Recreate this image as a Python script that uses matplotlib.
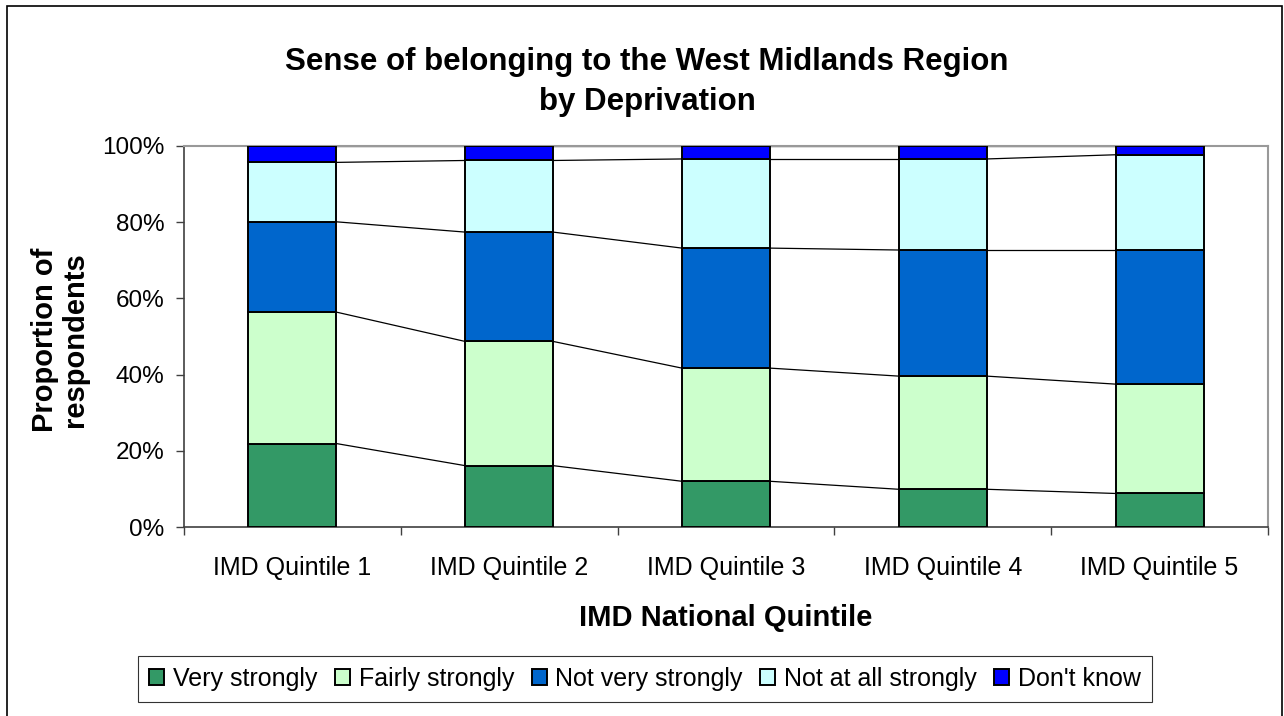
import matplotlib
matplotlib.use("Agg")
import matplotlib.pyplot as plt
import numpy as np
from matplotlib.patches import Rectangle

plt.rcParams['font.family'] = ['Liberation Sans', 'DejaVu Sans']

categories = ["IMD Quintile 1", "IMD Quintile 2", "IMD Quintile 3", "IMD Quintile 4", "IMD Quintile 5"]
series_names = ["Very strongly", "Fairly strongly", "Not very strongly", "Not at all strongly", "Don't know"]
very_strongly = [21.9, 16.1, 12.0, 9.9, 8.8]
fairly_strongly = [34.5, 32.6, 29.7, 29.7, 28.7]
not_very_strongly = [23.7, 28.7, 31.5, 33.1, 35.2]
not_at_all_strongly = [15.6, 18.8, 23.4, 23.9, 25.0]
dont_know = [4.3, 3.8, 3.4, 3.4, 2.3]
colors = ["#339966", "#CCFFCC", "#0066CC", "#CCFFFF", "#0000FF"]

series = [very_strongly, fairly_strongly, not_very_strongly, not_at_all_strongly, dont_know]

fig = plt.figure(figsize=(12.84, 7.16), dpi=100)
ax = fig.add_axes([184/1284, 1-527/716, (1268-184)/1284, (527-146)/716])

x = np.arange(len(categories))
width = 0.406
bottom = np.zeros(len(categories))
handles = []
for vals, name, c in zip(series, series_names, colors):
    v = np.array(vals, dtype=float)
    b = ax.bar(x, v, width, bottom=bottom, color=c, edgecolor="black", linewidth=1.4, label=name, zorder=3)
    handles.append(b)
    top = bottom + v
    for i in range(len(x) - 1):
        ax.plot([x[i] + width/2, x[i+1] - width/2], [top[i], top[i+1]], color="black", lw=0.9, zorder=2)
    bottom = top

ax.set_xlim(-0.5, len(categories) - 0.5)
ax.set_ylim(0, 100)
ax.set_yticks([0, 20, 40, 60, 80, 100])
ax.set_yticklabels([f"{t}%" for t in [0, 20, 40, 60, 80, 100]], fontsize=17.5)
ax.set_xticks(x)
ax.set_xticklabels(categories, fontsize=18)
ax.tick_params(axis='x', length=0, pad=21)
ax.set_xticks(np.arange(-0.5, len(categories)), minor=True)
ax.tick_params(axis='x', which='minor', length=6, width=1, color="#404040")
ax.tick_params(axis='y', length=6, width=1, color="#404040", pad=8)

for s in ["left", "bottom"]:
    ax.spines[s].set_color("#404040")
    ax.spines[s].set_linewidth(1.2)
for s in ["top", "right"]:
    ax.spines[s].set_color("#999999")
    ax.spines[s].set_linewidth(1.5)

fig.text(647/1284, 1-62/716, "Sense of belonging to the West Midlands Region", ha="center", va="center",
         fontsize=22.5, fontweight="bold")
fig.text(647/1284, 1-102/716, "by Deprivation", ha="center", va="center", fontsize=22.5, fontweight="bold")

fig.text(60/1284, 1-340/716, "Proportion of\nrespondents", rotation=90, ha="center", va="center",
         fontsize=21, fontweight="bold", linespacing=1.1)
fig.text(726/1284, 1-618/716, "IMD National Quintile", ha="center", va="center",
         fontsize=21, fontweight="bold")

leg = fig.legend(handles=handles, labels=series_names, loc="center", bbox_to_anchor=(645/1284, 1-679/716),
                 ncol=5, fontsize=18, frameon=True, fancybox=False, edgecolor="black",
                 handlelength=0.6, handleheight=0.6, handletextpad=0.35, columnspacing=0.7,
                 borderpad=0.45, borderaxespad=0)
leg.get_frame().set_linewidth(0.8)

fig.patches.append(Rectangle((7/1284, -0.05), (1282-7)/1284, 1.05 - 6/716, transform=fig.transFigure,
                             fill=False, edgecolor="black", linewidth=1.2))

fig.savefig("out.png", dpi=100)
